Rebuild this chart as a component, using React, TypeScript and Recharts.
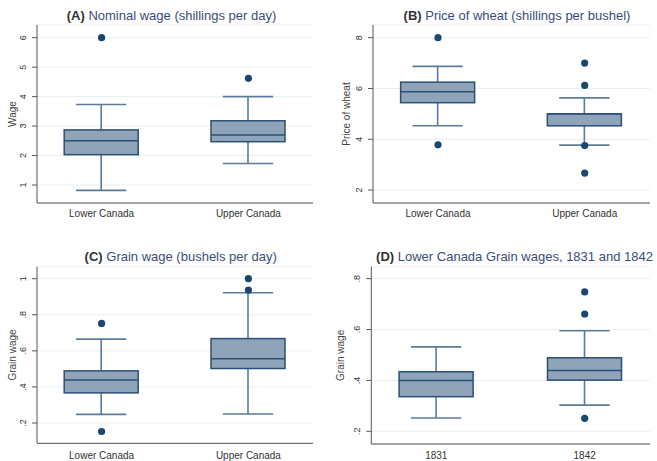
import React from 'react';
import { ComposedChart, Bar, Line, XAxis, YAxis, CartesianGrid } from 'recharts';

// ---- data ----
// box = [lower whisker, Q1, median, Q3, upper whisker]
const canadaCategories = ['Lower Canada', 'Upper Canada'];
const yearCategories = ['1831', '1842'];

const wageBoxes = [
  [0.82, 2.03, 2.5, 2.87, 3.73],
  [1.73, 2.47, 2.7, 3.18, 4.0],
];
const wageOutliers = [[6.0], [4.62]];
const wageTicks = [1, 2, 3, 4, 5, 6];

const wheatBoxes = [
  [4.53, 5.44, 5.87, 6.25, 6.87],
  [3.77, 4.53, 5.0, 5.0, 5.63],
];
const wheatOutliers = [[8.0, 3.78], [7.0, 6.12, 3.75, 2.67]];
const wheatTicks = [2, 4, 6, 8];

const grainBoxes = [
  [0.248, 0.367, 0.439, 0.489, 0.665],
  [0.25, 0.502, 0.556, 0.668, 0.922],
];
const grainOutliers = [[0.752, 0.153], [1.0, 0.937]];
const grainTicks = [0.2, 0.4, 0.6, 0.8, 1];

const lcBoxes = [
  [0.252, 0.336, 0.4, 0.434, 0.532],
  [0.303, 0.401, 0.439, 0.489, 0.595],
];
const lcOutliers = [[], [0.748, 0.661, 0.251]];
const lcTicks = [0.2, 0.4, 0.6, 0.8];

// ---- styles ----
const FONT = '"Liberation Sans", Arial, Helvetica, sans-serif';
const BOX_FILL = '#8fa3b9';
const BOX_STROKE = '#2a5077';
const WHISKER = '#5a7b9b';
const DOT = '#1a476f';
const GRID = '#e8f0f2';
const AXIS = '#555555';
const TITLE_BLUE = '#3a4d78';

const buildRows = (boxes: number[][], outliers: number[][]) =>
  boxes.map((box, i) => {
    const row: any = { x: i + 1, box };
    outliers[i].forEach((v, k) => {
      row['o' + k] = v;
    });
    return row;
  });

const stataFmt = (v: number) => {
  const s = String(Math.round(v * 1000) / 1000);
  return s.startsWith('0.') ? s.slice(1) : s;
};

const BoxShape = (props: any) => {
  const { x, y, width, height, payload } = props;
  if (!payload || height == null || isNaN(y)) return null;
  const [lo, q1, med, q3, hi] = payload.box;
  const py = (v: number) => y + (height * (hi - v)) / (hi - lo);
  const cx = x + width / 2;
  const cap = width * 0.34;
  return (
    <g>
      <line x1={cx} x2={cx} y1={py(hi)} y2={py(q3)} stroke={WHISKER} strokeWidth={1.6} />
      <line x1={cx} x2={cx} y1={py(q1)} y2={py(lo)} stroke={WHISKER} strokeWidth={1.6} />
      <line x1={cx - cap} x2={cx + cap} y1={py(hi)} y2={py(hi)} stroke={WHISKER} strokeWidth={1.6} />
      <line x1={cx - cap} x2={cx + cap} y1={py(lo)} y2={py(lo)} stroke={WHISKER} strokeWidth={1.6} />
      <rect x={x} y={py(q3)} width={width} height={py(q1) - py(q3)} fill={BOX_FILL} stroke={BOX_STROKE} strokeWidth={1.5} />
      <line x1={x} x2={x + width} y1={py(med)} y2={py(med)} stroke={BOX_STROKE} strokeWidth={1.5} />
    </g>
  );
};

type PanelProps = {
  left: number;
  top: number;
  width: number;
  height: number;
  marginTop: number;
  marginRight: number;
  yAxisWidth: number;
  xAxisHeight: number;
  yDomain: [number, number];
  xDomain: [number, number];
  ticks: number[];
  categories: string[];
  boxes: number[][];
  outliers: number[][];
  yLabel: string;
  yLabelX: number;
  xLabelOffset: number;
  letter: string;
  title: string;
  titleCenter: number;
  titleTop: number;
};

const Panel = (p: PanelProps) => {
  const rows = buildRows(p.boxes, p.outliers);
  const maxOut = Math.max(...p.outliers.map((o) => o.length));
  const outKeys = Array.from({ length: maxOut }, (_, k) => 'o' + k);
  const plotTop = p.marginTop;
  const plotH = p.height - p.marginTop - p.xAxisHeight;

  const YTick = (tp: any) => {
    const { x, y, payload } = tp;
    const cx = x - 9;
    return (
      <text
        x={cx}
        y={y}
        transform={`rotate(-90 ${cx} ${y})`}
        textAnchor="middle"
        dy="0.35em"
        fontSize={9}
        fill="#333"
        fontFamily={FONT}
      >
        {stataFmt(payload.value)}
      </text>
    );
  };

  const XTick = (tp: any) => {
    const { x, y, payload } = tp;
    return (
      <text x={x} y={y + p.xLabelOffset} dy="0.35em" textAnchor="middle" fontSize={10} fill="#333" fontFamily={FONT}>
        {p.categories[payload.value - 1]}
      </text>
    );
  };

  const YLabel = () => {
    const cy = plotTop + plotH / 2;
    return (
      <text
        x={p.yLabelX}
        y={cy}
        transform={`rotate(-90 ${p.yLabelX} ${cy})`}
        textAnchor="middle"
        dy="0.35em"
        fontSize={10}
        fill="#444"
        fontFamily={FONT}
      >
        {p.yLabel}
      </text>
    );
  };

  return (
    <div style={{ position: 'absolute', left: p.left, top: p.top, width: p.width, height: p.height }}>
      <ComposedChart
        width={p.width}
        height={p.height}
        data={rows}
        margin={{ top: p.marginTop, right: p.marginRight, bottom: 0, left: 0 }}
      >
        <CartesianGrid vertical={false} stroke={GRID} strokeWidth={1} />
        <XAxis
          dataKey="x"
          type="number"
          domain={p.xDomain}
          allowDataOverflow
          ticks={[1, 2]}
          height={p.xAxisHeight}
          tickLine={false}
          tickSize={0}
          tickMargin={0}
          axisLine={{ stroke: AXIS, strokeWidth: 1 }}
          tick={<XTick />}
          interval={0}
        />
        <YAxis
          type="number"
          domain={p.yDomain}
          allowDataOverflow
          ticks={p.ticks}
          width={p.yAxisWidth}
          tickSize={5}
          tickMargin={0}
          tickLine={{ stroke: AXIS }}
          axisLine={{ stroke: AXIS, strokeWidth: 1 }}
          tick={<YTick />}
          interval={0}
          label={{ content: <YLabel /> }}
        />
        <Bar
          dataKey={(d: any) => [d.box[0], d.box[4]]}
          barSize={74}
          shape={<BoxShape />}
          isAnimationActive={false}
          legendType="none"
        />
        {outKeys.map((k) => (
          <Line
            key={k}
            dataKey={k}
            stroke="none"
            dot={{ r: 3.6, fill: DOT, stroke: DOT, strokeWidth: 0 }}
            activeDot={false}
            isAnimationActive={false}
            legendType="none"
          />
        ))}
      </ComposedChart>
      <div
        style={{
          position: 'absolute',
          left: p.titleCenter - 200,
          width: 400,
          top: p.titleTop - p.top,
          textAlign: 'center',
          fontFamily: FONT,
          fontSize: 13,
          lineHeight: '16px',
          whiteSpace: 'nowrap',
          color: TITLE_BLUE,
        }}
      >
        <span style={{ fontWeight: 'bold', color: '#333' }}>{p.letter}</span> {p.title}
      </div>
    </div>
  );
};

export default function App() {
  return (
    <div style={{ position: 'absolute', left: 0, top: 0, width: 657, height: 461, background: '#ffffff', overflow: 'hidden' }}>
      <Panel
        left={0}
        top={0}
        width={330}
        height={230}
        marginTop={25}
        marginRight={17}
        yAxisWidth={37}
        xAxisHeight={27}
        yDomain={[0.39, 6.43]}
        xDomain={[0.56, 2.44]}
        ticks={wageTicks}
        categories={canadaCategories}
        boxes={wageBoxes}
        outliers={wageOutliers}
        yLabel="Wage"
        yLabelX={12}
        xLabelOffset={10}
        letter="(A)"
        title="Nominal wage (shillings per day)"
        titleCenter={171.5}
        titleTop={7.5}
      />
      <Panel
        left={328}
        top={0}
        width={329}
        height={230}
        marginTop={25}
        marginRight={7}
        yAxisWidth={45}
        xAxisHeight={27}
        yDomain={[1.49, 8.5]}
        xDomain={[0.557, 2.445]}
        ticks={wheatTicks}
        categories={canadaCategories}
        boxes={wheatBoxes}
        outliers={wheatOutliers}
        yLabel="Price of wheat"
        yLabelX={18}
        xLabelOffset={10}
        letter="(B)"
        title="Price of wheat (shillings per bushel)"
        titleCenter={517 - 328}
        titleTop={7.5}
      />
      <Panel
        left={0}
        top={230}
        width={330}
        height={231}
        marginTop={36.7}
        marginRight={17}
        yAxisWidth={37}
        xAxisHeight={17.7}
        yDomain={[0.0875, 1.0665]}
        xDomain={[0.56, 2.44]}
        ticks={grainTicks}
        categories={canadaCategories}
        boxes={grainBoxes}
        outliers={grainOutliers}
        yLabel="Grain wage"
        yLabelX={12}
        xLabelOffset={11.7}
        letter="(C)"
        title="Grain wage (bushels per day)"
        titleCenter={180.7}
        titleTop={249 }
      />
      <Panel
        left={328}
        top={230}
        width={329}
        height={231}
        marginTop={36.7}
        marginRight={7}
        yAxisWidth={43.3}
        xAxisHeight={17}
        yDomain={[0.15, 0.847]}
        xDomain={[0.562, 2.44]}
        ticks={lcTicks}
        categories={yearCategories}
        boxes={lcBoxes}
        outliers={lcOutliers}
        yLabel="Grain wage"
        yLabelX={12.7}
        xLabelOffset={11}
        letter="(D)"
        title="Lower Canada Grain wages, 1831 and 1842"
        titleCenter={514.5 - 328}
        titleTop={249}
      />
    </div>
  );
}
